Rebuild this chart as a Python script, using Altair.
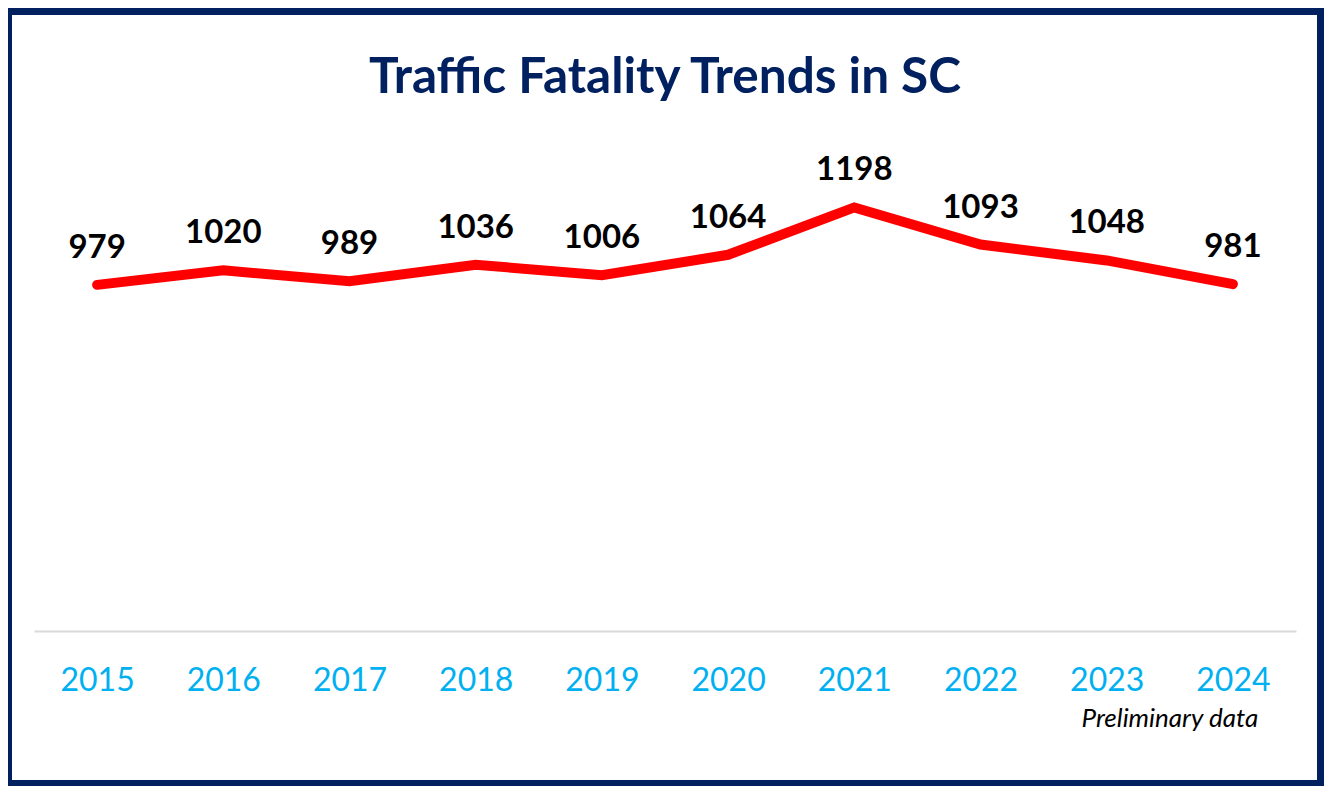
import altair as alt
import pandas as pd

years = ["2015", "2016", "2017", "2018", "2019", "2020", "2021", "2022", "2023", "2024"]
fatalities = [979, 1020, 989, 1036, 1006, 1064, 1198, 1093, 1048, 981]
note_year = ["2024"]
note_text = ["Preliminary data"]
title_text = ["Traffic Fatality Trends in SC"]

NAVY = "#002060"

df = pd.DataFrame({"year": years, "fatalities": fatalities})
note_df = pd.DataFrame({"year": note_year, "text": note_text})
panel_df = pd.DataFrame({"k": [0]})
title_df = pd.DataFrame({"text": title_text})

x_enc = alt.X(
    "year:O",
    sort=years,
    scale=alt.Scale(type="point", padding=0.5),
    axis=alt.Axis(
        title=None,
        labelAngle=0,
        labelFont="Lato",
        labelFontSize=32,
        labelColor="#00B0F0",
        labelBaseline="alphabetic",
        labelPadding=59,
        ticks=False,
        tickSize=0,
        domainColor="#D9D9D9",
        domainWidth=2,
        grid=False,
        zindex=1,
    ),
)
y_enc = alt.Y("fatalities:Q", scale=alt.Scale(domain=[0, 1400]), axis=None)

panel = alt.Chart(panel_df).mark_rect(color="white").encode(
    x=alt.value(-22), x2=alt.value(1283), y=alt.value(-121), y2=alt.value(644)
)

title = alt.Chart(title_df).mark_text(
    font="Lato", fontSize=49.5, fontWeight="bold", color=NAVY,
    baseline="alphabetic", align="center"
).encode(x=alt.value(631), y=alt.value(-43), text="text:N")

line = alt.Chart(df).mark_line(
    color="#FF0000", strokeWidth=10, strokeCap="round"
).encode(x=x_enc, y=y_enc)

labels = alt.Chart(df).mark_text(
    font="Lato", fontSize=33, fontWeight="bold", color="black",
    baseline="alphabetic", dy=-27
).encode(x=x_enc, y=y_enc, text=alt.Text("fatalities:Q"))

note = alt.Chart(note_df).mark_text(
    font="Lato", fontSize=26, fontStyle="italic", color="black",
    baseline="alphabetic", dx=-63
).encode(x=x_enc, y=alt.value(591), text="text:N")

chart = alt.layer(panel, title, line, labels, note).properties(
    width=1262,
    height=495,
    background=NAVY,
    padding={"left": 26, "top": 128, "right": 28, "bottom": 155},
    autosize=alt.AutoSizeParams(type="none"),
).configure_view(stroke=None)

chart.save("out.html", embed_options={"renderer": "svg", "actions": False})
